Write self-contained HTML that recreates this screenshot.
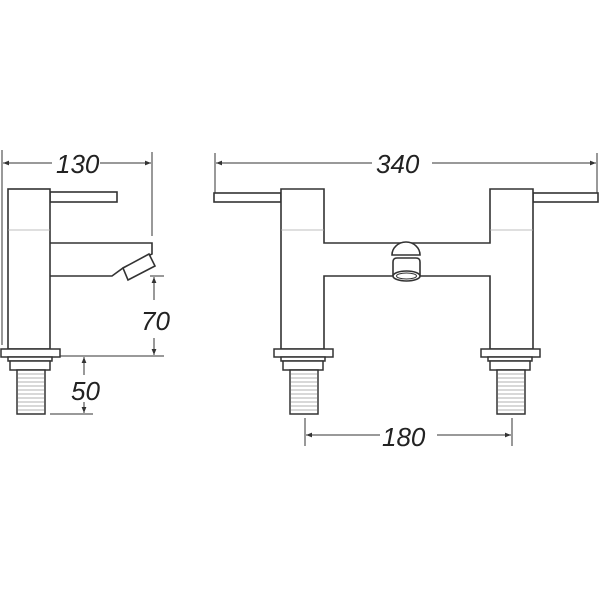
<!DOCTYPE html>
<html><head><meta charset="utf-8"><style>
html,body{margin:0;padding:0;background:#fff;}
svg{display:block}
text{font-family:"Liberation Sans",sans-serif;font-style:italic;font-size:26px;fill:#222;}
</style></head><body>
<svg width="600" height="600" viewBox="0 0 600 600" xmlns="http://www.w3.org/2000/svg">
<defs>
<marker id="a" viewBox="0 0 10 10" refX="10" refY="5" markerWidth="9" markerHeight="6" orient="auto-start-reverse" markerUnits="userSpaceOnUse"><path d="M0,1 L10,5 L0,9 z" fill="#333"/></marker>
<g id="foot" stroke="#333" stroke-width="1.5" fill="#fff">
<rect x="0" y="0" width="59" height="8"/>
<rect x="7" y="8" width="44" height="4"/>
<rect x="9" y="12" width="40" height="9"/>
<rect x="16" y="21" width="28" height="44"/>
<g stroke="#999" stroke-width="0.8">
<line x1="17" y1="25" x2="43" y2="25"/><line x1="17" y1="29" x2="43" y2="29"/><line x1="17" y1="33" x2="43" y2="33"/><line x1="17" y1="37" x2="43" y2="37"/><line x1="17" y1="41" x2="43" y2="41"/><line x1="17" y1="45" x2="43" y2="45"/><line x1="17" y1="49" x2="43" y2="49"/><line x1="17" y1="53" x2="43" y2="53"/><line x1="17" y1="57" x2="43" y2="57"/><line x1="17" y1="61" x2="43" y2="61"/>
</g>
</g>
</defs>
<g stroke="#333" stroke-width="1" fill="none">
<line x1="2" y1="150" x2="2" y2="345"/>
<line x1="152" y1="152" x2="152" y2="236"/>
<line x1="3" y1="163" x2="52" y2="163" marker-start="url(#a)"/>
<line x1="100" y1="163" x2="151" y2="163" marker-end="url(#a)"/>
<line x1="150" y1="276" x2="164" y2="276"/>
<line x1="60" y1="356" x2="164" y2="356"/>
<line x1="154" y1="300" x2="154" y2="277" marker-end="url(#a)"/>
<line x1="154" y1="338" x2="154" y2="355" marker-end="url(#a)"/>
<line x1="84" y1="375" x2="84" y2="357" marker-end="url(#a)"/>
<line x1="84" y1="402" x2="84" y2="413" marker-end="url(#a)"/>
<line x1="50" y1="414" x2="93" y2="414"/>
<line x1="215" y1="153" x2="215" y2="193"/>
<line x1="597" y1="153" x2="597" y2="193"/>
<line x1="216" y1="163" x2="372" y2="163" marker-start="url(#a)"/>
<line x1="432" y1="163" x2="596" y2="163" marker-end="url(#a)"/>
<line x1="305" y1="418" x2="305" y2="446"/>
<line x1="512" y1="418" x2="512" y2="446"/>
<line x1="306" y1="435" x2="380" y2="435" marker-start="url(#a)"/>
<line x1="437" y1="435" x2="511" y2="435" marker-end="url(#a)"/>
</g>
<text x="56" y="173">130</text>
<text x="376" y="173">340</text>
<text x="382" y="446">180</text>
<text x="141" y="330">70</text>
<text x="71" y="400">50</text>
<g stroke="#333" stroke-width="1.6" fill="#fff">
<rect x="50" y="192" width="67" height="10"/>
<path d="M50,243 L152,243 L152,254 L123,268 L112,276 L50,276"/>
<path d="M123,268 L149,254 L155,266 L128,280 Z"/>
<rect x="8" y="189" width="42" height="160"/>
<line x1="8" y1="230" x2="50" y2="230" stroke="#aaa" stroke-width="0.8"/>
<rect x="214" y="193" width="67" height="9"/>
<rect x="533" y="193" width="65" height="9"/>
<path d="M281,189 L324,189 L324,243 L490,243 L490,189 L533,189 L533,349 L490,349 L490,276 L324,276 L324,349 L281,349 Z"/>
<line x1="281" y1="230" x2="324" y2="230" stroke="#aaa" stroke-width="0.8"/>
<line x1="490" y1="230" x2="533" y2="230" stroke="#aaa" stroke-width="0.8"/>
<path d="M392,255 A14,13 0 0 1 420,255 Z"/>
<path d="M393,276 L393,262 Q393,258 397,258 L416,258 Q420,258 420,262 L420,276"/>
<ellipse cx="406.5" cy="276" rx="13.5" ry="5"/>
<ellipse cx="406.5" cy="276" rx="10" ry="3" stroke-width="1"/>
</g>
<use href="#foot" x="1" y="349"/>
<use href="#foot" x="274" y="349"/>
<use href="#foot" x="481" y="349"/>
</svg>
</body></html>
